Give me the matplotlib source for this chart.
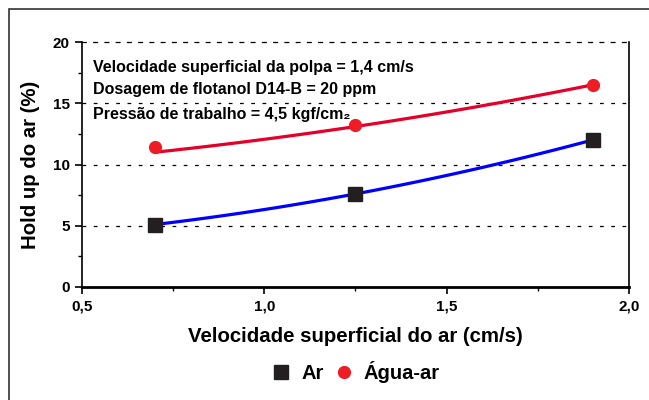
import numpy as np
import matplotlib.pyplot as plt
from matplotlib.lines import Line2D
from matplotlib.patches import Rectangle

plt.rcParams['font.family'] = ['Liberation Sans', 'DejaVu Sans']
plt.rcParams['font.weight'] = 'bold'
plt.rcParams['axes.labelweight'] = 'bold'

# data
vel_ar = [0.7, 1.25, 1.9]
holdup_ar = [5.1, 7.6, 12.0]
holdup_agua = [11.4, 13.2, 16.5]
# trend curves as drawn in the original (read at the same x values)
trend_ar = [5.1, 7.6, 12.0]
trend_agua = [11.0, 13.1, 16.5]

notes = ["Velocidade superficial da polpa = 1,4 cm/s",
         "Dosagem de flotanol D14-B = 20 ppm",
         "Pressão de trabalho = 4,5 kgf/cm\u2082"]

fig = plt.figure(figsize=(6.49, 4.0), dpi=100)
fig.patches.append(Rectangle((9 / 649, -0.1), 1.2, (400 - 9) / 400 + 0.1,
                             transform=fig.transFigure, fill=False,
                             edgecolor="#333333", linewidth=1.2))
ax = fig.add_axes([82 / 649, 113 / 400, 547 / 649, 245 / 400])

xs = np.linspace(vel_ar[0], vel_ar[-1], 100)
for trend, col in [(trend_ar, "#0000FF"), (trend_agua, "#E4002B")]:
    c = np.polyfit(vel_ar, trend, 2)
    ax.plot(xs, np.polyval(c, xs), color=col, lw=2.3, zorder=2)

ax.plot(vel_ar, holdup_ar, "s", color="#231F20", ms=10.5, zorder=3)
ax.plot(vel_ar, holdup_agua, "o", color="#EE1C25", ms=8.5, zorder=3)

for yv in [5, 10, 15]:
    ax.axhline(yv, color="black", lw=0.9, ls=(0, (3, 6)), zorder=1)

ax.set_xlim(0.5, 2.0)
ax.set_ylim(0, 20)
ax.set_xticks([0.5, 1.0, 1.5, 2.0])
ax.set_xticklabels(["0,5", "1,0", "1,5", "2,0"])
ax.set_xticks([0.75, 1.25, 1.75], minor=True)
ax.set_yticks([0, 5, 10, 15, 20])
ax.set_yticks([2.5, 7.5, 12.5, 17.5], minor=True)
ax.tick_params(direction="out", length=5, width=1.2, labelsize=11, pad=4)
ax.tick_params(which="minor", direction="out", length=3, width=1)
ax.spines["top"].set_linestyle((0, (3, 6)))
ax.spines["top"].set_linewidth(0.9)
ax.spines["bottom"].set_linewidth(2)
ax.spines["left"].set_linewidth(1.2)
ax.spines["right"].set_linewidth(1.2)

ax.set_xlabel("Velocidade superficial do ar (cm/s)", fontsize=14.7, labelpad=10)
ax.set_ylabel("Hold up do ar (%)", fontsize=14.7, labelpad=9)

for i, (t, yy) in enumerate(zip(notes, [0.895, 0.805, 0.703])):
    ax.text(0.02, yy, t, transform=ax.transAxes, fontsize=11.5,
            ha="left", va="center")

handles = [Line2D([], [], ls="none", marker="s", color="#231F20", ms=10),
           Line2D([], [], ls="none", marker="o", color="#EE1C25", ms=8.5)]
fig.legend(handles, ["Ar", "Água-ar"], loc="center", bbox_to_anchor=(0.546, 0.07),
           ncol=2, frameon=False, fontsize=14.5, handletextpad=0.4,
           columnspacing=0.4, handlelength=1.2)

fig.savefig("out.png", dpi=100)
